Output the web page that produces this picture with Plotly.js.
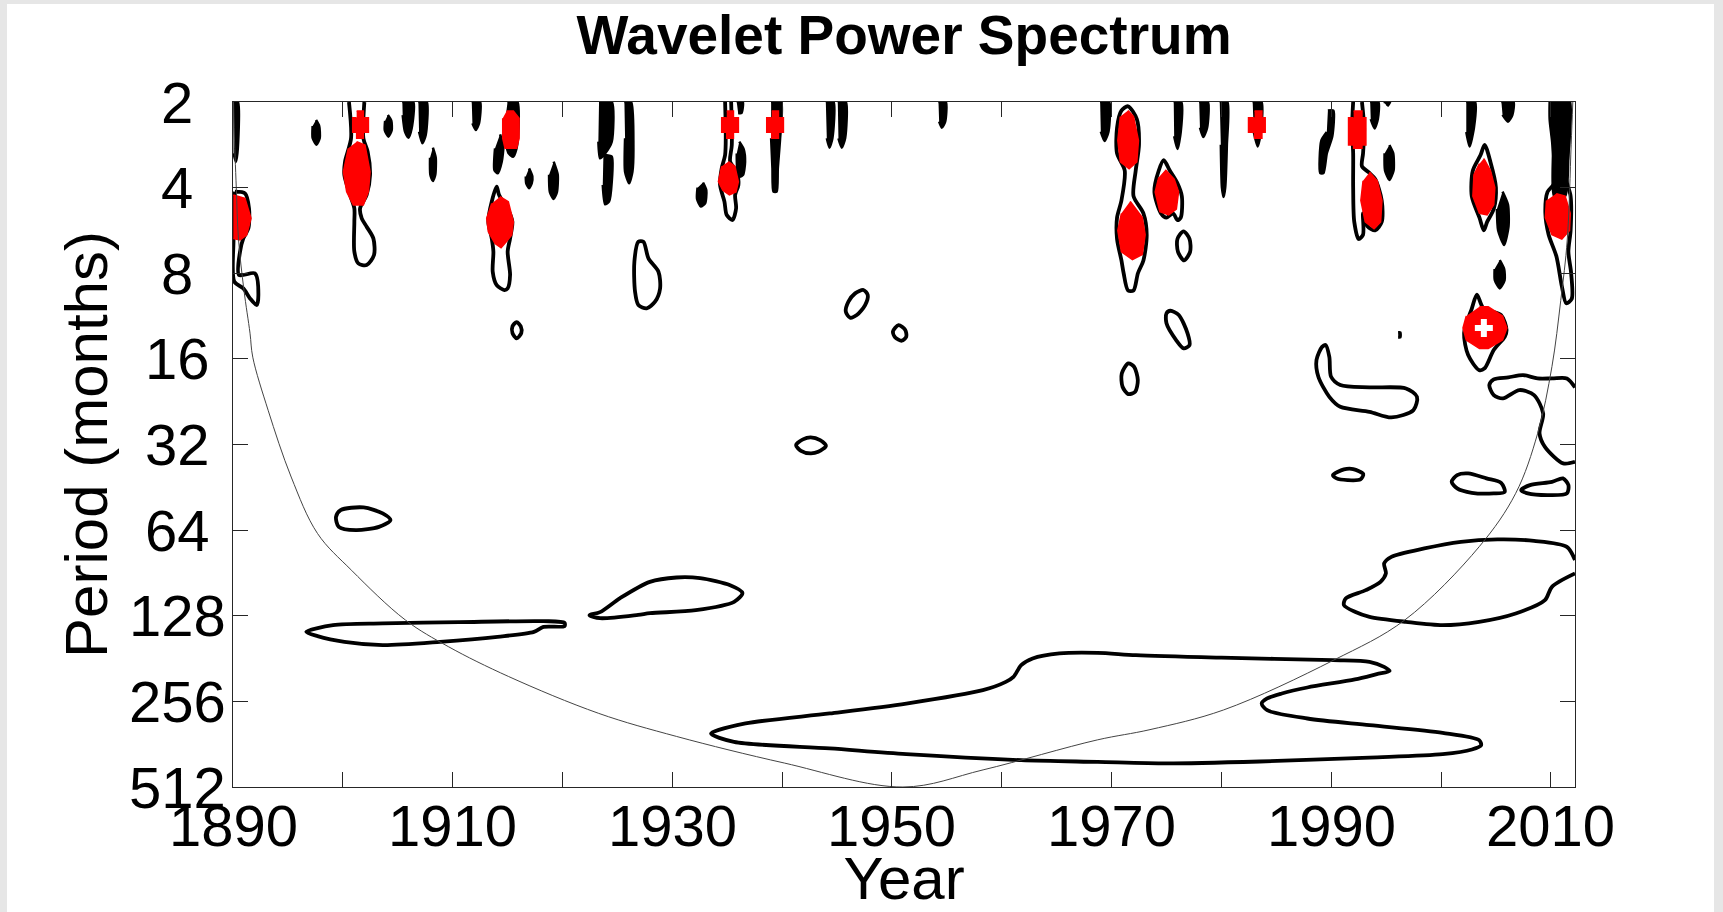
<!DOCTYPE html>
<html>
<head>
<meta charset="utf-8">
<script src="https://cdn.plot.ly/plotly-3.0.1.min.js"></script>
<style>
  html, body { margin: 0; padding: 0; background: #e6e6e6; width: 1723px; height: 912px; overflow: hidden; }
  #chart { position: absolute; left: 7px; top: 4px; width: 1707px; height: 908px; background: #fff; }
</style>
</head>
<body>
<div id="chart"></div>
<script>
// ---- Axis ticks (y values are log2 of the period in months) ----
const yearTicks = [1890, 1900, 1910, 1920, 1930, 1940, 1950, 1960, 1970, 1980, 1990, 2000, 2010];
const yearTickText = ['1890', '', '1910', '', '1930', '', '1950', '', '1970', '', '1990', '', '2010'];
const periodTicks = [1, 2, 3, 4, 5, 6, 7, 8, 9];
const periodTickText = ['2', '4', '8', '16', '32', '64', '128', '256', '512'];
const yearRange = [1890, 2012.2];

// ---- Cone of influence: [year, log2(period)] ----
const coiCurve = [[1890.05,1.0],[1890.1,1.3],[1890.3,2.0],[1890.5,2.6],[1891.0,3.2],[1891.55,3.7],[1891.8,3.98],
  [1893.2,4.6],[1895.3,5.38],[1897.7,6.04],[1900.8,6.47],[1905.7,7.05],[1909.6,7.36],[1915.1,7.71],[1923.3,8.14],
  [1930.4,8.41],[1940.2,8.72],[1951.0,9.0],[1958.3,8.8],[1968.7,8.45],[1973.5,8.33],[1980.2,8.1],[1990.2,7.52],
  [1996.7,7.05],[2003.5,6.19],[2006.8,5.57],[2008.8,4.87],[2010.1,4.09],[2010.9,3.32],[2011.5,2.6],[2011.85,1.5],[2012.0,1.0]];

// ---- Contour rings (outlined): each is a list of [year, log2(period)] ----
const ringContours = [
  [[1890.18,2.047],[1891.09,2.067],[1891.46,2.242],[1891.4,2.476],[1890.94,2.593],[1890.64,2.748],[1890.55,3.021],[1892.0,3.002],[1892.31,3.255],[1892.16,3.371],[1891.55,3.294],[1890.94,3.177],[1890.12,3.099],[1890.05,2.6],[1890.12,2.047]],
  [[1900.56,1.0],[1900.75,1.424],[1900.2,1.697],[1900.14,1.853],[1900.66,2.086],[1901.05,2.242],[1901.05,2.398],[1901.05,2.748],[1901.41,2.885],[1902.17,2.904],[1902.84,2.787],[1902.78,2.593],[1902.17,2.456],[1901.72,2.359],[1901.57,2.242],[1902.17,2.086],[1902.48,1.853],[1902.26,1.58],[1901.87,1.424],[1901.96,1.0]],
  [[1914.01,1.989],[1914.23,2.086],[1915.07,2.262],[1915.44,2.398],[1915.23,2.593],[1915.01,2.748],[1915.23,3.021],[1915.01,3.177],[1914.71,3.196],[1914.01,3.138],[1913.65,2.982],[1913.71,2.748],[1913.56,2.593],[1913.25,2.398],[1913.56,2.164],[1914.01,1.989]],
  [[1926.91,2.632],[1927.37,2.632],[1927.83,2.826],[1928.74,2.982],[1928.89,3.177],[1928.43,3.332],[1927.67,3.41],[1926.91,3.371],[1926.61,3.216],[1926.55,2.865],[1926.91,2.632]],
  [[1915.83,3.57],[1916.2,3.62],[1916.25,3.7],[1915.83,3.76],[1915.45,3.7],[1915.45,3.62],[1915.83,3.57]],
  [[1934.81,1.0],[1934.87,1.385],[1934.81,1.619],[1934.5,1.775],[1934.35,1.969],[1934.75,2.164],[1934.96,2.32],[1935.48,2.378],[1935.81,2.242],[1935.72,2.086],[1936.02,1.969],[1935.87,1.814],[1935.27,1.697],[1935.42,1.502],[1935.36,1.0]],
  [[1947.41,3.196],[1947.8,3.255],[1947.56,3.371],[1946.8,3.488],[1946.19,3.519],[1945.8,3.449],[1946.04,3.332],[1946.65,3.235],[1947.41,3.196]],
  [[1950.6,3.605],[1951.2,3.66],[1951.31,3.74],[1950.9,3.788],[1950.3,3.75],[1950.09,3.68],[1950.6,3.605]],
  [[1941.27,5.007],[1941.9,4.94],[1942.6,4.917],[1943.46,4.949],[1943.99,5.015],[1943.29,5.085],[1942.6,5.104],[1941.72,5.074],[1941.27,5.007]],
  [[1899.8,5.766],[1901.89,5.735],[1903.63,5.805],[1904.34,5.883],[1903.29,5.962],[1901.19,6.0],[1899.63,5.962],[1899.38,5.845],[1899.8,5.766]],
  [[1896.67,7.188],[1899.11,7.11],[1903.63,7.09],[1910.6,7.075],[1918.27,7.063],[1920.19,7.083],[1920.19,7.121],[1918.27,7.13],[1917.4,7.188],[1914.09,7.246],[1908.86,7.305],[1903.63,7.343],[1900.15,7.305],[1897.7,7.238],[1896.67,7.188]],
  [[1922.46,6.993],[1923.42,6.958],[1925.25,6.794],[1927.96,6.604],[1930.39,6.553],[1932.53,6.561],[1935.27,6.643],[1936.39,6.733],[1935.63,6.838],[1932.14,6.935],[1927.98,6.97],[1926.89,6.99],[1923.42,7.028],[1922.46,6.993]],
  [[1933.53,8.375],[1936.67,8.258],[1944.34,8.141],[1951.31,8.025],[1958.28,7.869],[1960.37,7.772],[1961.07,7.714],[1961.77,7.577],[1962.81,7.499],[1965.25,7.44],[1968.73,7.433],[1972.22,7.46],[1980.0,7.49],[1990.16,7.519],[1993.49,7.538],[1994.82,7.597],[1995.32,7.644],[1994.15,7.682],[1992.16,7.744],[1987.83,7.838],[1985.5,7.908],[1984.17,7.966],[1983.67,8.025],[1984.17,8.103],[1987.83,8.2],[1993.49,8.278],[2000.15,8.368],[2003.47,8.453],[2003.65,8.512],[2002.81,8.562],[2000.15,8.617],[1993.49,8.656],[1983.5,8.702],[1975.0,8.725],[1968.73,8.707],[1961.77,8.687],[1951.31,8.617],[1944.34,8.55],[1935.62,8.473],[1933.53,8.375]],
  [[2012.2,6.35],[2011.46,6.195],[2008.47,6.125],[2005.13,6.109],[2001.81,6.137],[1998.48,6.214],[1995.48,6.312],[1994.82,6.389],[1994.98,6.506],[1994.49,6.604],[1993.15,6.701],[1991.32,6.798],[1991.16,6.876],[1992.16,6.954],[1993.49,7.013],[1996.81,7.071],[2000.15,7.11],[2003.47,7.071],[2006.8,6.973],[2009.46,6.818],[2010.1,6.662],[2012.2,6.506]],
  [[1989.49,3.839],[1989.83,3.976],[1989.99,4.209],[1990.83,4.306],[1993.49,4.333],[1996.81,4.345],[1997.81,4.443],[1997.49,4.598],[1995.48,4.684],[1993.49,4.618],[1990.83,4.56],[1989.83,4.443],[1988.83,4.209],[1988.66,4.014],[1989.17,3.86],[1989.49,3.839]],
  [[2012.2,4.333],[2011.46,4.228],[2010.12,4.228],[2008.79,4.228],[2007.47,4.189],[2006.13,4.216],[2004.8,4.24],[2004.4,4.306],[2004.8,4.423],[2005.64,4.462],[2007.14,4.364],[2008.47,4.423],[2009.3,4.637],[2008.97,4.871],[2009.46,5.027],[2011.13,5.221],[2012.2,5.202]],
  [[1990.16,5.357],[1991.16,5.291],[1992.0,5.287],[1992.92,5.346],[1992.66,5.408],[1991.49,5.416],[1990.49,5.396],[1990.16,5.357]],
  [[2000.97,5.436],[2001.47,5.357],[2002.47,5.338],[2004.14,5.396],[2005.47,5.448],[2005.8,5.553],[2004.8,5.571],[2002.8,5.564],[2001.47,5.513],[2000.97,5.436]],
  [[2007.3,5.533],[2008.1,5.474],[2010.1,5.436],[2011.1,5.396],[2011.6,5.474],[2011.46,5.571],[2009.8,5.591],[2007.9,5.571],[2007.3,5.533]],
  [[2003.27,3.25],[2002.81,3.41],[2002.1,3.7],[2002.47,3.956],[2003.47,4.131],[2003.97,4.11],[2004.8,3.897],[2005.8,3.742],[2005.97,3.664],[2005.47,3.488],[2003.86,3.41],[2003.27,3.25]],
  [[1971.52,4.053],[1972.05,4.092],[1972.39,4.248],[1972.15,4.384],[1971.52,4.411],[1971.0,4.326],[1970.93,4.17],[1971.52,4.053]],
  [[1975.36,3.438],[1976.12,3.488],[1976.92,3.702],[1977.1,3.839],[1976.57,3.877],[1975.88,3.78],[1975.0,3.585],[1975.0,3.468],[1975.36,3.438]],
  [[1971.5,1.05],[1972.3,1.2],[1972.5,1.5],[1972.2,1.8],[1972.0,2.1],[1972.9,2.3],[1973.2,2.55],[1972.9,2.85],[1972.4,3.0],[1972.0,3.2],[1971.5,3.2],[1971.1,3.0],[1970.9,2.85],[1970.5,2.6],[1970.5,2.35],[1970.9,2.15],[1971.2,1.8],[1970.5,1.6],[1970.5,1.3],[1970.9,1.1],[1971.5,1.05]],
  [[1974.75,1.68],[1975.3,1.8],[1976.0,1.95],[1976.4,2.1],[1976.3,2.35],[1976.0,2.38],[1975.6,2.3],[1975.0,2.35],[1974.5,2.3],[1973.9,2.05],[1974.3,1.8],[1974.75,1.68]],
  [[1976.55,2.51],[1977.1,2.6],[1977.15,2.75],[1976.6,2.85],[1976.05,2.75],[1976.0,2.6],[1976.55,2.51]],
  [[1992.0,1.0],[1991.9,1.3],[1992.0,1.6],[1992.0,2.0],[1992.1,2.4],[1992.5,2.6],[1992.9,2.55],[1992.9,2.3],[1993.3,2.45],[1994.0,2.5],[1994.6,2.4],[1994.6,2.15],[1994.0,1.9],[1993.4,1.82],[1992.8,1.75],[1992.9,1.6],[1993.0,1.3],[1992.8,1.0]],
  [[2003.97,1.5],[2004.5,1.7],[2005.0,2.0],[2004.8,2.25],[2004.2,2.4],[2003.9,2.5],[2003.5,2.35],[2002.8,2.1],[2002.9,1.8],[2003.6,1.62],[2003.97,1.5]],
  [[2009.95,1.0],[2009.95,1.2],[2010.2,1.5],[2010.3,1.95],[2009.7,2.05],[2009.5,2.3],[2009.8,2.55],[2010.5,2.8],[2011.0,3.15],[2011.4,3.35],[2011.9,3.3],[2011.85,3.0],[2011.6,2.75],[2011.8,2.5],[2011.8,2.1],[2011.4,1.9],[2011.6,1.5],[2011.7,1.0]]
];

// ---- Narrow contours that read as solid black slivers ----
const spikeContours = [
  [[1890.03,1.0],[1890.45,1.0],[1890.4,1.6],[1890.25,1.7],[1890.05,1.6]],
  [[1897.56,1.21],[1897.85,1.28],[1897.9,1.42],[1897.6,1.5],[1897.25,1.42],[1897.25,1.28]],
  [[1904.1,1.152],[1904.42,1.22],[1904.45,1.33],[1904.15,1.405],[1903.82,1.33],[1903.85,1.22]],
  [[1905.42,1.0],[1906.42,1.0],[1906.27,1.307],[1905.97,1.417],[1905.66,1.347],[1905.45,1.152]],
  [[1906.88,1.0],[1907.64,1.0],[1907.55,1.385],[1907.24,1.483],[1906.94,1.347]],
  [[1908.2,1.533],[1908.46,1.65],[1908.42,1.85],[1908.2,1.923],[1907.97,1.85],[1907.94,1.65]],
  [[1911.74,1.0],[1912.5,1.0],[1912.4,1.25],[1912.1,1.327],[1911.8,1.25]],
  [[1915.0,1.0],[1915.9,1.0],[1916.0,1.3],[1915.8,1.55],[1915.5,1.64],[1915.1,1.6],[1914.8,1.45],[1914.8,1.2]],
  [[1914.32,1.378],[1914.62,1.502],[1914.47,1.697],[1914.1,1.833],[1913.8,1.794],[1913.86,1.541]],
  [[1916.96,1.775],[1917.26,1.87],[1917.2,1.95],[1916.96,2.008],[1916.7,1.95],[1916.66,1.87]],
  [[1919.2,1.697],[1919.57,1.85],[1919.5,2.05],[1919.2,2.133],[1918.85,2.05],[1918.78,1.85]],
  [[1923.33,1.0],[1924.49,1.0],[1924.49,1.463],[1923.88,1.6],[1923.42,1.658],[1923.27,1.463]],
  [[1923.73,1.619],[1924.49,1.638],[1924.49,1.93],[1924.24,2.164],[1923.88,2.195],[1923.67,1.969]],
  [[1925.64,1.0],[1926.25,1.0],[1926.46,1.502],[1926.37,1.814],[1926.07,1.95],[1925.7,1.814],[1925.7,1.424]],
  [[1932.8,1.94],[1933.1,2.03],[1933.0,2.18],[1932.6,2.22],[1932.25,2.13],[1932.3,2.0]],
  [[1935.87,1.0],[1936.42,1.0],[1936.3,1.13],[1936.0,1.13]],
  [[1936.1,1.463],[1936.5,1.55],[1936.63,1.7],[1936.45,1.85],[1936.15,1.872],[1935.9,1.75],[1935.87,1.6]],
  [[1939.0,1.0],[1939.91,1.0],[1939.82,1.424],[1939.61,1.775],[1939.51,2.047],[1939.21,2.047],[1939.12,1.775],[1939.0,1.424]],
  [[1943.98,1.0],[1944.68,1.0],[1944.58,1.424],[1944.31,1.533],[1944.07,1.424]],
  [[1945.07,1.0],[1945.8,1.0],[1945.74,1.424],[1945.43,1.533],[1945.13,1.424]],
  [[1954.24,1.0],[1954.91,1.0],[1954.85,1.23],[1954.54,1.3],[1954.3,1.23]],
  [[1968.96,1.0],[1969.78,1.0],[1969.72,1.346],[1969.36,1.455],[1969.02,1.346]],
  [[1975.66,1.0],[1976.34,1.0],[1976.3,1.35],[1976.0,1.55],[1975.7,1.4]],
  [[1977.98,1.0],[1978.77,1.0],[1978.7,1.3],[1978.35,1.41],[1978.05,1.3]],
  [[1979.85,1.0],[1980.55,1.0],[1980.5,1.5],[1980.35,2.0],[1980.2,2.11],[1980.05,2.0],[1979.95,1.5]],
  [[1982.85,1.0],[1983.65,1.0],[1983.6,1.35],[1983.3,1.52],[1982.95,1.35]],
  [[1989.7,1.1],[1990.2,1.1],[1990.1,1.4],[1989.6,1.6],[1989.3,1.83],[1989.0,1.83],[1989.1,1.45],[1989.6,1.35]],
  [[1993.55,1.0],[1994.3,1.0],[1994.25,1.2],[1993.95,1.31],[1993.6,1.2]],
  [[1995.3,1.502],[1995.65,1.6],[1995.68,1.8],[1995.3,1.911],[1994.9,1.8],[1994.86,1.6]],
  [[1994.77,1.0],[1995.37,1.0],[1995.1,1.05]],
  [[2002.3,1.0],[2003.1,1.0],[2003.0,1.3],[2002.6,1.52],[2002.3,1.35]],
  [[2005.5,1.0],[2006.6,1.0],[2006.5,1.15],[2006.1,1.23],[2005.6,1.15]],
  [[2005.6,2.047],[2006.1,2.2],[2006.15,2.45],[2005.75,2.67],[2005.2,2.5],[2005.09,2.25]],
  [[2005.35,2.846],[2005.75,2.95],[2005.79,3.08],[2005.35,3.177],[2004.9,3.08],[2004.88,2.95]],
  [[2009.95,1.0],[2011.7,1.0],[2011.6,1.6],[2011.3,2.1],[2010.3,2.1],[2010.2,1.5],[2009.95,1.2]],
  [[1996.1,3.69],[1996.3,3.69],[1996.3,3.75],[1996.1,3.75]]
];

// ---- Significant regions (red) ----
const significantRegions = [
  [[1890.03,2.086],[1891.09,2.125],[1891.64,2.359],[1891.24,2.554],[1890.64,2.612],[1890.03,2.593]],
  [[1901.26,1.105],[1901.87,1.105],[1901.87,1.183],[1902.33,1.183],[1902.33,1.354],[1901.87,1.354],[1901.87,1.424],[1901.26,1.424],[1901.26,1.354],[1900.9,1.354],[1900.9,1.183],[1901.26,1.183]],
  [[1901.26,1.463],[1902.02,1.502],[1902.48,1.814],[1902.33,2.047],[1901.87,2.203],[1900.96,2.203],[1900.35,2.047],[1900.05,1.814],[1900.5,1.541]],
  [[1914.92,1.105],[1915.53,1.105],[1916.05,1.191],[1916.05,1.424],[1915.83,1.541],[1914.77,1.541],[1914.56,1.424],[1914.56,1.191]],
  [[1914.32,2.106],[1915.07,2.164],[1915.53,2.398],[1915.38,2.554],[1914.77,2.651],[1914.41,2.702],[1913.86,2.651],[1913.25,2.515],[1913.1,2.359],[1913.56,2.184]],
  [[1934.96,1.105],[1935.57,1.105],[1935.57,1.183],[1936.02,1.183],[1936.02,1.354],[1935.57,1.354],[1935.57,1.424],[1934.96,1.424],[1934.96,1.354],[1934.5,1.354],[1934.5,1.183],[1934.96,1.183]],
  [[1935.1,1.697],[1935.7,1.75],[1936.02,1.93],[1935.8,2.05],[1935.2,2.086],[1934.6,2.03],[1934.2,1.93],[1934.5,1.75]],
  [[1939.06,1.105],[1939.67,1.105],[1939.67,1.183],[1940.12,1.183],[1940.12,1.354],[1939.67,1.354],[1939.67,1.424],[1939.06,1.424],[1939.06,1.354],[1938.6,1.354],[1938.6,1.183],[1939.06,1.183]],
  [[1971.5,1.1],[1972.0,1.17],[1972.45,1.45],[1972.3,1.7],[1971.6,1.78],[1970.8,1.7],[1970.57,1.45],[1970.8,1.17]],
  [[1971.7,2.16],[1972.8,2.35],[1973.06,2.55],[1972.8,2.78],[1971.9,2.84],[1970.9,2.75],[1970.57,2.5],[1970.9,2.3]],
  [[1974.9,1.79],[1975.7,1.9],[1976.1,2.05],[1975.9,2.25],[1975.2,2.32],[1974.4,2.28],[1973.97,2.05],[1974.3,1.88]],
  [[1983.02,1.105],[1983.69,1.105],[1983.69,1.183],[1983.99,1.183],[1983.99,1.354],[1983.69,1.354],[1983.69,1.424],[1983.02,1.424],[1983.02,1.354],[1982.47,1.354],[1982.47,1.183],[1983.02,1.183]],
  [[1992.04,1.105],[1992.8,1.105],[1992.8,1.183],[1993.16,1.183],[1993.16,1.502],[1992.8,1.502],[1992.8,1.541],[1992.04,1.541],[1992.04,1.502],[1991.58,1.502],[1991.58,1.183],[1992.04,1.183]],
  [[1993.5,1.82],[1994.2,1.92],[1994.62,2.15],[1994.5,2.4],[1993.9,2.48],[1993.1,2.4],[1992.7,2.15],[1992.9,1.92]],
  [[2003.9,1.66],[2004.5,1.8],[2004.9,2.0],[2004.8,2.2],[2004.2,2.32],[2003.5,2.3],[2002.9,2.1],[2003.0,1.85],[2003.5,1.72]],
  [[2010.5,2.07],[2011.3,2.1],[2011.77,2.3],[2011.7,2.5],[2011.0,2.6],[2010.1,2.55],[2009.5,2.35],[2009.6,2.15]],
  [[2003.5,3.39],[2004.3,3.39],[2005.6,3.5],[2006.0,3.64],[2005.6,3.78],[2004.3,3.88],[2003.5,3.88],[2002.3,3.78],[2002.0,3.64],[2002.3,3.5]]
];

// ---- Marker inside the strongest region ----
const peakYear = [2003.9];
const peakPeriodLog2 = [3.64];

// ---- helpers: flatten polygons into one trace with gaps ----
function flatten(polys) {
  const x = [], y = [];
  polys.forEach(function (poly) {
    poly.forEach(function (p) { x.push(p[0]); y.push(p[1]); });
    x.push(null); y.push(null);
  });
  return { x: x, y: y };
}
const ringXY = flatten(ringContours);
const spikeXY = flatten(spikeContours);
const redXY = flatten(significantRegions);

const FONT = 'Liberation Sans, Arial, Helvetica, sans-serif';

const traces = [
  { type: 'scatter', mode: 'lines', x: ringXY.x, y: ringXY.y, connectgaps: false,
    line: { color: '#000', width: 3.8, shape: 'spline', smoothing: 0.8 }, hoverinfo: 'skip', showlegend: false },
  { type: 'scatter', mode: 'lines', x: spikeXY.x, y: spikeXY.y, connectgaps: false, fill: 'toself', fillcolor: '#000',
    line: { color: '#000', width: 2.5, shape: 'spline', smoothing: 0.6 }, hoverinfo: 'skip', showlegend: false },
  { type: 'scatter', mode: 'lines', x: redXY.x, y: redXY.y, connectgaps: false, fill: 'toself', fillcolor: '#ff0000',
    line: { color: '#ff0000', width: 1.5 }, hoverinfo: 'skip', showlegend: false },
  { type: 'scatter', mode: 'lines', x: coiCurve.map(p => p[0]), y: coiCurve.map(p => p[1]),
    line: { color: '#444444', width: 1, shape: 'spline', smoothing: 1.0 }, hoverinfo: 'skip', showlegend: false },
  { type: 'scatter', mode: 'markers', x: peakYear, y: peakPeriodLog2,
    marker: { symbol: 'cross', size: 15, color: '#ffffff', line: { width: 0 } }, hoverinfo: 'skip', showlegend: false }
];

const tickFont = { family: FONT, size: 58, color: '#000' };

// y tick labels: centred in a column left of the axis (as in the original figure)
const yTickAnnotations = periodTicks.map(function (v, i) {
  return { xref: 'paper', x: 0, xshift: -56, yref: 'y', y: v, text: periodTickText[i], showarrow: false,
    xanchor: 'center', yanchor: 'middle', font: tickFont };
});
// x tick labels: centred under their ticks
const xTickAnnotations = [];
yearTicks.forEach(function (v, i) {
  if (yearTickText[i] !== '') {
    xTickAnnotations.push({ xref: 'x', x: v, yref: 'paper', y: 0, yshift: -38, text: yearTickText[i],
      showarrow: false, xanchor: 'center', yanchor: 'middle', font: tickFont });
  }
});

const layout = {
  width: 1707, height: 908,
  margin: { l: 226, r: 139, t: 98, b: 125, pad: 0 },
  paper_bgcolor: '#ffffff', plot_bgcolor: '#ffffff',
  showlegend: false,
  font: { family: FONT, color: '#000' },
  title: { text: 'Wavelet Power Spectrum', x: 0.5, xref: 'paper', xanchor: 'center',
    y: 1 - 31 / 908, yref: 'container', yanchor: 'middle',
    font: { family: FONT, size: 55, color: '#000', weight: 700 } },
  xaxis: {
    range: yearRange, tickmode: 'array', tickvals: yearTicks, ticktext: yearTickText,
    showticklabels: false,
    ticks: 'inside', ticklen: 15, tickwidth: 1, tickcolor: '#262626',
    showline: true, linecolor: '#262626', linewidth: 1, mirror: 'ticks',
    showgrid: false, zeroline: false,
    title: { text: 'Year', font: { family: FONT, size: 60, color: '#000' }, standoff: 72 }
  },
  yaxis: {
    range: [9, 1], tickmode: 'array', tickvals: periodTicks, ticktext: periodTickText,
    showticklabels: false,
    ticks: 'inside', ticklen: 15, tickwidth: 1, tickcolor: '#262626',
    showline: true, linecolor: '#262626', linewidth: 1, mirror: 'ticks',
    showgrid: false, zeroline: false,
    title: { text: 'Period (months)', font: { family: FONT, size: 60, color: '#000' }, standoff: 105 }
  },
  annotations: yTickAnnotations.concat(xTickAnnotations)
};

Plotly.newPlot('chart', traces, layout, { displayModeBar: false, staticPlot: true });
</script>
</body>
</html>
